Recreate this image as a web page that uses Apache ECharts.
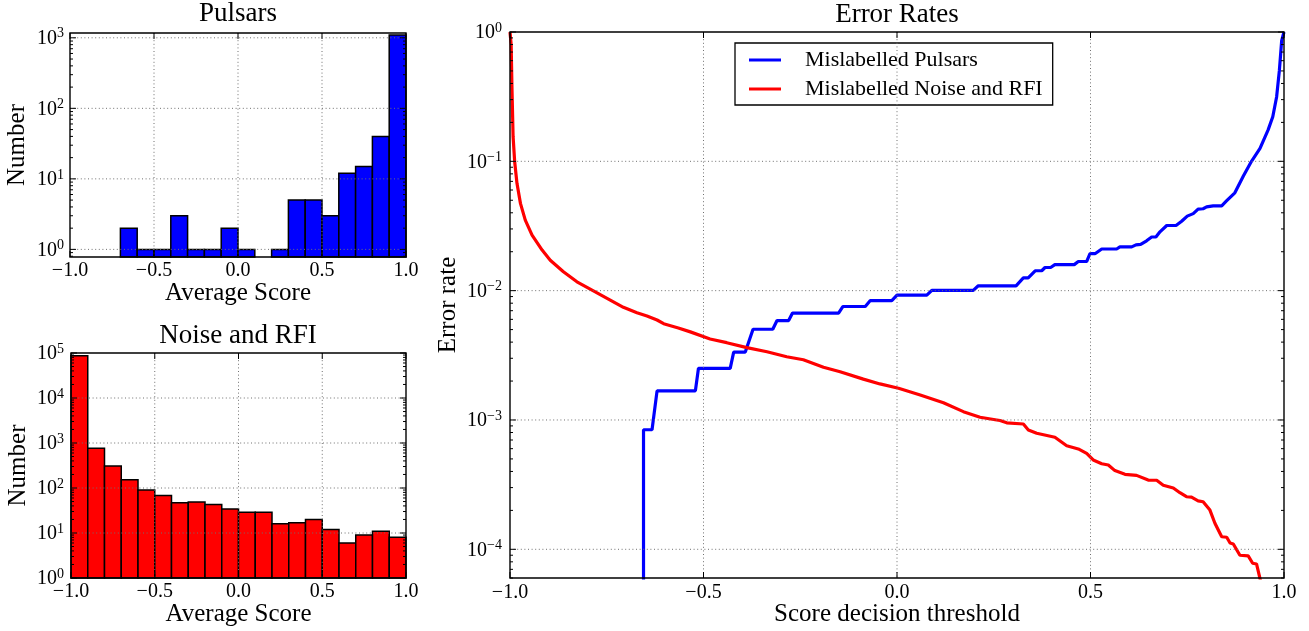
<!DOCTYPE html>
<html>
<head>
<meta charset="utf-8">
<script src="https://cdn.jsdelivr.net/npm/echarts@6/dist/echarts.min.js"></script>
<style>
  html, body { margin: 0; padding: 0; background: #ffffff; }
  #chart { width: 1309px; height: 631px; }
</style>
</head>
<body>
<div id="chart"></div>
<script>
// Histogram bins: left edges of the 0.1-wide average-score bins
const binLeft = [-1.0, -0.9, -0.8, -0.7, -0.6, -0.5, -0.4, -0.3, -0.2, -0.1,
                 0.0, 0.1, 0.2, 0.3, 0.4, 0.5, 0.6, 0.7, 0.8, 0.9];
const binWidth = 0.1;

// Candidates per bin
const pulsarCounts = [0, 0, 0, 2, 1, 1, 3, 1, 1, 2, 1, 0, 1, 5, 5, 3, 12, 15, 40, 1100];
const noiseCounts = [87000, 763, 308, 153, 90, 68, 47, 49, 43, 34, 29, 29, 16, 17, 20, 12, 6, 9, 11, 8];

// Fraction of pulsars scored below each decision threshold
const pulsarThreshold = [
  -0.655, -0.655, -0.633, -0.620, -0.521, -0.513, -0.431, -0.422, -0.392, -0.372,
  -0.321, -0.310, -0.280, -0.270, -0.151, -0.140, -0.082, -0.069, -0.0135, 0.000,
  0.077, 0.090, 0.197, 0.210, 0.3076, 0.3265, 0.339, 0.357, 0.374, 0.3825,
  0.397, 0.408, 0.458, 0.4685, 0.490, 0.4987, 0.5116, 0.529, 0.5676, 0.576,
  0.6064, 0.6175, 0.6296, 0.645, 0.658, 0.669, 0.6795, 0.697, 0.721, 0.7355,
  0.750, 0.7655, 0.778, 0.791, 0.800, 0.817, 0.839, 0.852, 0.873, 0.895,
  0.916, 0.938, 0.959, 0.971, 0.981, 0.988, 0.994, 1.000
];
const pulsarErrorRate = [
  1e-7, 8.4e-4, 8.4e-4, 1.68e-3, 1.68e-3, 2.51e-3, 2.51e-3, 3.35e-3, 3.35e-3, 5.03e-3,
  5.03e-3, 5.87e-3, 5.87e-3, 6.71e-3, 6.71e-3, 7.54e-3, 7.54e-3, 8.38e-3, 8.38e-3, 9.22e-3,
  9.22e-3, 1.006e-2, 1.006e-2, 1.09e-2, 1.09e-2, 1.257e-2, 1.257e-2, 1.425e-2, 1.425e-2, 1.51e-2,
  1.51e-2, 1.59e-2, 1.59e-2, 1.68e-2, 1.68e-2, 1.93e-2, 1.93e-2, 2.10e-2, 2.10e-2, 2.18e-2,
  2.18e-2, 2.26e-2, 2.28e-2, 2.43e-2, 2.60e-2, 2.60e-2, 2.85e-2, 3.19e-2, 3.19e-2, 3.44e-2,
  3.77e-2, 3.94e-2, 4.27e-2, 4.30e-2, 4.44e-2, 4.53e-2, 4.53e-2, 4.96e-2, 5.71e-2, 7.69e-2,
  0.100, 0.126, 0.175, 0.221, 0.316, 0.502, 0.857, 1.0
];

// Fraction of noise and RFI scored above each decision threshold
const noiseThreshold = [
  -1.000, -0.997, -0.995, -0.992, -0.988, -0.982, -0.973, -0.9605, -0.943, -0.917,
  -0.896, -0.862, -0.827, -0.788, -0.741, -0.707, -0.672, -0.646, -0.620, -0.603,
  -0.565, -0.534, -0.483, -0.440, -0.388, -0.336, -0.285, -0.242, -0.190, -0.147,
  -0.087, -0.044, 0.004, 0.060, 0.120, 0.1715, 0.2146, 0.2577, 0.2663, 0.2835,
  0.3265, 0.3394, 0.361, 0.408, 0.4385, 0.4685, 0.490, 0.507, 0.529, 0.546,
  0.563, 0.589, 0.619, 0.649, 0.671, 0.688, 0.714, 0.731, 0.748, 0.761,
  0.778, 0.791, 0.8086, 0.8215, 0.839, 0.852, 0.8606, 0.869, 0.886, 0.9075,
  0.919, 0.929, 0.940, 0.950
];
const noiseErrorRate = [
  1.0, 0.80, 0.378, 0.155, 0.100, 0.0676, 0.0473, 0.0351, 0.0269, 0.0206,
  0.0172, 0.0140, 0.0117, 0.0101, 8.46e-3, 7.43e-3, 6.75e-3, 6.37e-3, 5.93e-3, 5.55e-3,
  5.15e-3, 4.80e-3, 4.23e-3, 3.96e-3, 3.63e-3, 3.37e-3, 3.08e-3, 2.92e-3, 2.56e-3, 2.36e-3,
  2.07e-3, 1.90e-3, 1.76e-3, 1.56e-3, 1.36e-3, 1.16e-3, 1.05e-3, 1.0e-3, 9.9e-4, 9.5e-4,
  9.31e-4, 8.37e-4, 7.89e-4, 7.35e-4, 6.32e-4, 5.97e-4, 5.52e-4, 4.91e-4, 4.59e-4, 4.49e-4,
  4.06e-4, 3.80e-4, 3.73e-4, 3.43e-4, 3.42e-4, 3.13e-4, 2.98e-4, 2.74e-4, 2.55e-4, 2.53e-4,
  2.37e-4, 2.33e-4, 2.01e-4, 1.59e-4, 1.25e-4, 1.24e-4, 1.12e-4, 1.10e-4, 9.0e-5, 8.9e-5,
  7.8e-5, 7.7e-5, 5.6e-5, 1e-7
];

const scoreTicks = [-1.0, -0.5, 0.0, 0.5, 1.0];

const SERIF = "'Liberation Serif', 'DejaVu Serif', serif";
const BLUE = '#0000ff';
const RED = '#ff0000';

function scoreLabel(v) {
  const s = Math.abs(v).toFixed(1);
  return (v < -1e-9 ? '\u2212' : '') + s;
}

function powerLabel(v) {
  const lg = Math.log10(v);
  const e = Math.round(lg);
  if (Math.abs(lg - e) > 1e-6) return '';
  return '{b|10}{s|' + (e < 0 ? '\u2212' + (-e) : e) + '}';
}

const powerRich = {
  b: { fontFamily: SERIF, fontSize: 20, lineHeight: 22, color: '#000', verticalAlign: 'bottom' },
  s: { fontFamily: SERIF, fontSize: 14, lineHeight: 10, color: '#000', verticalAlign: 'top' }
};

function scoreAxis(gridIndex, name, margin) {
  return {
    gridIndex: gridIndex, type: 'value', min: -1, max: 1, interval: 0.5,
    axisLine: { show: false }, axisTick: { show: false }, splitLine: { show: false },
    axisLabel: {
      formatter: scoreLabel, fontFamily: SERIF, fontSize: 20, color: '#000',
      margin: margin, showMinLabel: true, showMaxLabel: true
    },
    name: name, nameLocation: 'middle', nameGap: 24, nameMoveOverlap: false,
    nameTextStyle: { fontFamily: SERIF, fontSize: 25, color: '#000' }
  };
}

function logAxis(gridIndex, min, max, name, nameGap, margin) {
  return {
    gridIndex: gridIndex, type: 'log', logBase: 10, min: min, max: max,
    axisLine: { show: false }, axisTick: { show: false }, splitLine: { show: false },
    minorTick: { show: false }, minorSplitLine: { show: false },
    axisLabel: { formatter: powerLabel, rich: powerRich, margin: margin },
    name: name, nameLocation: 'middle', nameRotate: 90, nameGap: nameGap, nameMoveOverlap: false,
    nameTextStyle: { fontFamily: SERIF, fontSize: 25, color: '#000' }
  };
}

// Bars of a histogram, drawn from each bin's edges down to the plot floor
function histogramSeries(gridIndex, counts, color) {
  return {
    type: 'custom', xAxisIndex: gridIndex, yAxisIndex: gridIndex,
    data: binLeft.map((x, i) => [x, x + binWidth, counts[i]]),
    encode: { x: [0, 1], y: 2 },
    silent: true, z: 2,
    renderItem: function (params, api) {
      const n = api.value(2);
      if (!(n > 0)) return null;
      const a = api.coord([api.value(0), n]);
      const b = api.coord([api.value(1), n]);
      const floor = params.coordSys.y + params.coordSys.height;
      return {
        type: 'rect',
        shape: { x: a[0], y: a[1], width: b[0] - a[0], height: floor - a[1] },
        style: { fill: color, stroke: '#000', lineWidth: 1.5 }
      };
    }
  };
}

// Frame, dotted grid and inward ticks on all four sides of one panel
function frameSeries(gridIndex, yMin, yMax) {
  return {
    type: 'custom', xAxisIndex: gridIndex, yAxisIndex: gridIndex,
    data: [[0, 1]], encode: { x: 0, y: 1 },
    silent: true, z: 20,
    renderItem: function (params, api) {
      const cs = params.coordSys;
      const left = cs.x, right = cs.x + cs.width, top = cs.y, bottom = cs.y + cs.height;
      const kids = [];
      const gridStyle = { stroke: '#707070', lineWidth: 1, lineDash: [1, 2.6] };
      const tickStyle = { stroke: '#000', lineWidth: 1 };
      const line = (x1, y1, x2, y2, style) => kids.push({
        type: 'line', shape: { x1: x1, y1: y1, x2: x2, y2: y2 }, style: style
      });
      scoreTicks.forEach(function (t) {
        const px = api.coord([t, 1])[0];
        if (px > left + 1 && px < right - 1) line(px, top, px, bottom, gridStyle);
        line(px, bottom, px, bottom - 6, tickStyle);
        line(px, top, px, top + 6, tickStyle);
      });
      const e0 = Math.floor(Math.log10(yMin)), e1 = Math.ceil(Math.log10(yMax));
      for (let e = e0; e <= e1; e++) {
        for (let k = 1; k <= 9; k++) {
          const v = k * Math.pow(10, e);
          if (v < yMin * 0.999 || v > yMax * 1.001) continue;
          const py = api.coord([0, v])[1];
          const len = k === 1 ? 6 : 3;
          if (k === 1 && py > top + 1 && py < bottom - 1) line(left, py, right, py, gridStyle);
          line(left, py, left + len, py, tickStyle);
          line(right, py, right - len, py, tickStyle);
        }
      }
      kids.push({
        type: 'rect', shape: { x: left, y: top, width: cs.width, height: cs.height },
        style: { fill: null, stroke: '#000', lineWidth: 1.4 }
      });
      return { type: 'group', children: kids };
    }
  };
}

function titleText(text, x, y) {
  return {
    type: 'text', x: x, y: y, silent: true,
    style: { text: text, fontFamily: SERIF, fontSize: 27, fill: '#000', align: 'center', verticalAlign: 'middle' }
  };
}

const pulsarRange = [0.78, 1170];
const noiseRange = [1, 1e5];
const rateRange = [6e-5, 1];

const chart = echarts.init(document.getElementById('chart'), null, { renderer: 'canvas' });
chart.setOption({
  animation: false,
  backgroundColor: '#ffffff',
  graphic: [
    titleText('Pulsars', 238, 14),
    titleText('Noise and RFI', 238, 336),
    titleText('Error Rates', 897, 15)
  ],
  grid: [
    { left: 70, top: 33, width: 336, height: 224, outerBoundsMode: 'none' },
    { left: 71, top: 353, width: 335, height: 225, outerBoundsMode: 'none' },
    { left: 510, top: 32, width: 774, height: 546, outerBoundsMode: 'none' }
  ],
  xAxis: [
    scoreAxis(0, 'Average Score', 4),
    scoreAxis(1, 'Average Score', 4),
    scoreAxis(2, 'Score decision threshold', 5)
  ],
  yAxis: [
    logAxis(0, pulsarRange[0], pulsarRange[1], 'Number', 40, 6),
    logAxis(1, noiseRange[0], noiseRange[1], 'Number', 40, 7),
    logAxis(2, rateRange[0], rateRange[1], 'Error rate', 49, 8)
  ],
  legend: {
    orient: 'vertical', left: 735, top: 43,
    padding: [6, 10, 5, 14], itemGap: 7, itemWidth: 32, itemHeight: 3,
    borderColor: '#000', borderWidth: 1.3, borderRadius: 0, backgroundColor: '#fff',
    textStyle: { fontFamily: SERIF, fontSize: 22, lineHeight: 22, color: '#000', padding: [0, 0, 0, 19] },
    data: [
      { name: 'Mislabelled Pulsars', icon: 'rect' },
      { name: 'Mislabelled Noise and RFI', icon: 'rect' }
    ]
  },
  series: [
    histogramSeries(0, pulsarCounts, BLUE),
    histogramSeries(1, noiseCounts, RED),
    {
      name: 'Mislabelled Pulsars', type: 'line', xAxisIndex: 2, yAxisIndex: 2,
      data: pulsarThreshold.map((t, i) => [t, pulsarErrorRate[i]]),
      showSymbol: false, symbol: 'none', clip: true, z: 3,
      lineStyle: { color: BLUE, width: 3.2 }, itemStyle: { color: BLUE }
    },
    {
      name: 'Mislabelled Noise and RFI', type: 'line', xAxisIndex: 2, yAxisIndex: 2,
      data: noiseThreshold.map((t, i) => [t, noiseErrorRate[i]]),
      showSymbol: false, symbol: 'none', clip: true, z: 3,
      lineStyle: { color: RED, width: 3.2 }, itemStyle: { color: RED }
    },
    frameSeries(0, pulsarRange[0], pulsarRange[1]),
    frameSeries(1, noiseRange[0], noiseRange[1]),
    frameSeries(2, rateRange[0], rateRange[1])
  ]
});
</script>
</body>
</html>
